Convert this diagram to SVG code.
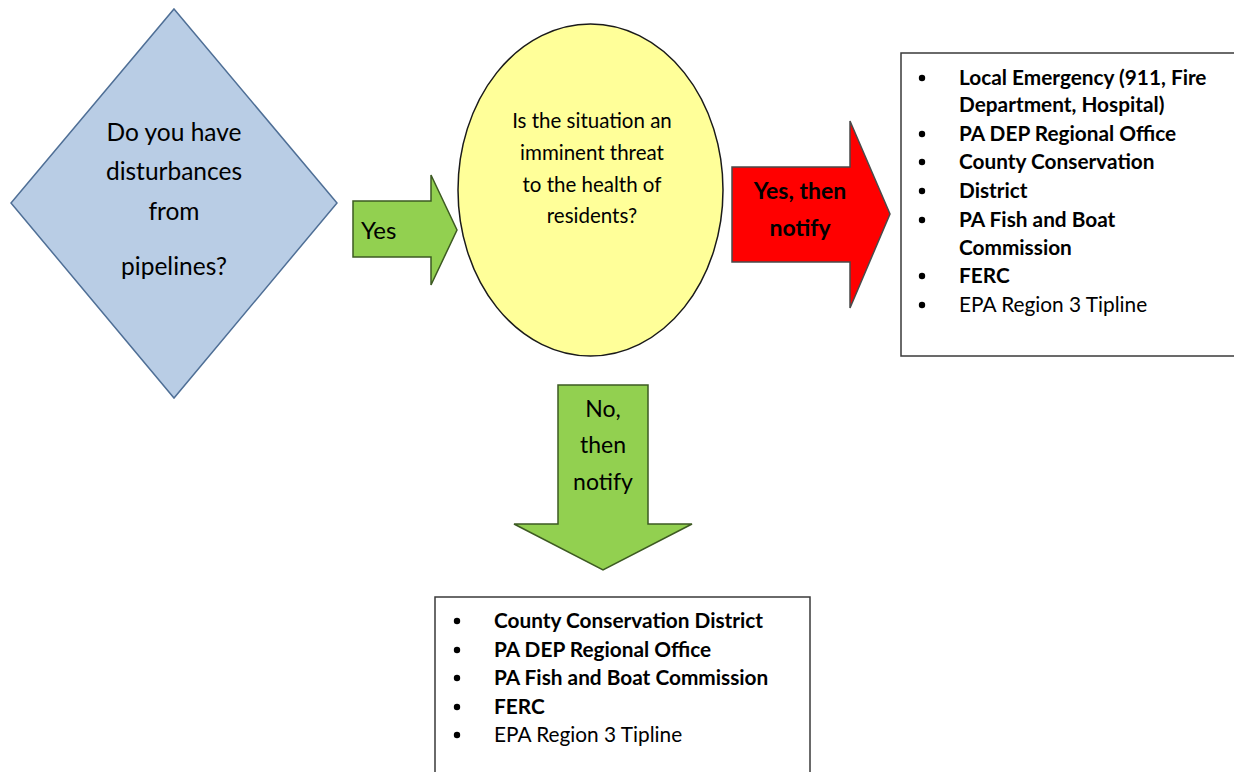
<svg xmlns="http://www.w3.org/2000/svg" width="1234" height="772" viewBox="0 0 1234 772">
<style>
  text { font-family: Lato, "Open Sans", "Liberation Sans", sans-serif; fill: #000; }
  .c { text-anchor: middle; }
  .q { font-size: 24.5px; }
  .e { font-size: 20.5px; }
  .lab { font-size: 23px; }
  .yes { font-size: 24px; }
  .b { font-weight: bold; }
  .li { font-size: 20.8px; }
  .box { fill: #fff; stroke: #3a3a3a; stroke-width: 1.5; }
  .green { fill: #92d050; stroke: #3d5a22; stroke-width: 1.5; }
</style>
<rect width="1234" height="772" fill="#fff"/>
<g id="connectors">
  <g id="yes-arrow">
    <path class="green" d="M353,201 L431,201 L431,175 L457,230 L431,285 L431,257 L353,257 Z"/>
    <text class="yes" x="361" y="239">Yes</text>
  </g>
  <g id="yes-then-arrow">
    <path d="M732,167 L850,167 L850,121 L890,214 L850,308 L850,262 L732,262 Z" fill="#ff0000" stroke="#4a4a4a" stroke-width="1.5"/>
    <text class="lab b c" x="800" y="199">Yes, then</text>
    <text class="lab b c" x="800" y="236">notify</text>
  </g>
  <g id="no-arrow">
    <path class="green" d="M558,385 L648,385 L648,524 L692,524 L603,570 L514,524 L558,524 Z"/>
    <text class="lab c" x="603" y="417">No,</text>
    <text class="lab c" x="603" y="453">then</text>
    <text class="lab c" x="603" y="490">notify</text>
  </g>
</g>
<g id="decision">
  <path d="M174,9 L337,203 L174,398 L11,203 Z" fill="#b9cde5" stroke="#4f6f96" stroke-width="1.5"/>
  <text class="q c" x="174" y="141">Do you have</text>
  <text class="q c" x="174" y="180">disturbances</text>
  <text class="q c" x="174" y="220">from</text>
  <text class="q c" x="174" y="275">pipelines?</text>
</g>
<g id="question">
  <ellipse cx="590.5" cy="190" rx="132.5" ry="166" fill="#ffff99" stroke="#1a1a1a" stroke-width="1.5"/>
  <text class="e c" x="592" y="128">Is the situation an</text>
  <text class="e c" x="592" y="160">imminent threat</text>
  <text class="e c" x="592" y="192">to the health of</text>
  <text class="e c" x="592" y="223">residents?</text>
</g>
<g id="emergency-list">
  <rect class="box" x="901" y="53" width="340" height="303"/>
  <g class="li">
    <circle cx="922" cy="78" r="3.2"/><text class="b" x="959" y="85">Local Emergency (911, Fire</text>
    <text class="b" x="959" y="112">Department, Hospital)</text>
    <circle cx="922" cy="134" r="3.2"/><text class="b" x="959" y="141">PA DEP Regional Office</text>
    <circle cx="922" cy="162" r="3.2"/><text class="b" x="959" y="169">County Conservation</text>
    <circle cx="922" cy="191" r="3.2"/><text class="b" x="959" y="198">District</text>
    <circle cx="922" cy="220" r="3.2"/><text class="b" x="959" y="227">PA Fish and Boat</text>
    <text class="b" x="959" y="255">Commission</text>
    <circle cx="922" cy="276" r="3.2"/><text class="b" x="959" y="283">FERC</text>
    <circle cx="922" cy="305" r="3.2"/><text x="959" y="312">EPA Region 3 Tipline</text>
  </g>
</g>
<g id="routine-list">
  <rect class="box" x="435" y="597" width="375" height="190"/>
  <g class="li">
    <circle cx="457" cy="621" r="3.2"/><text class="b" x="494" y="628">County Conservation District</text>
    <circle cx="457" cy="650" r="3.2"/><text class="b" x="494" y="657">PA DEP Regional Office</text>
    <circle cx="457" cy="678" r="3.2"/><text class="b" x="494" y="685">PA Fish and Boat Commission</text>
    <circle cx="457" cy="707" r="3.2"/><text class="b" x="494" y="714">FERC</text>
    <circle cx="457" cy="735" r="3.2"/><text x="494" y="742">EPA Region 3 Tipline</text>
  </g>
</g>
</svg>
